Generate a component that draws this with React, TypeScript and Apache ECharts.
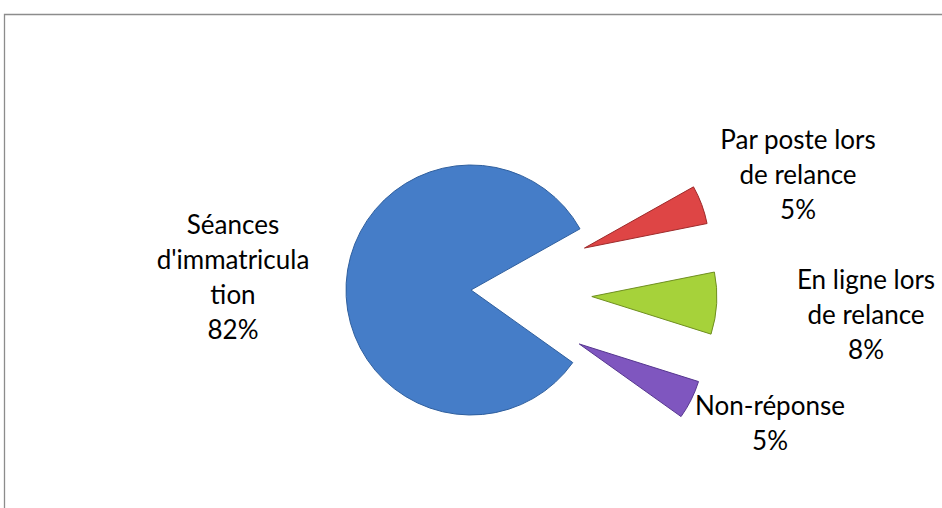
import React, { useEffect, useRef } from "react";
import * as echarts from "echarts";

const categories = [
  "Séances d'immatriculation",
  "Par poste lors de relance",
  "En ligne lors de relance",
  "Non-réponse",
];
const wrappedNames = [
  "Séances\nd'immatricula\ntion",
  "Par poste lors\nde relance",
  "En ligne lors\nde relance",
  "Non-réponse",
];
const values = [82, 5, 8, 5];
const colors = ["#457dc8", "#de4545", "#a6d23a", "#7f56bf"];
const borderColors = ["#2f5f9e", "#9e2a2a", "#6f8f20", "#56368f"];
const exploded = [false, true, true, true];
const labelCenters = [
  [233, 276],
  [798, 174],
  [866, 314],
  [770, 422],
];

export default function App() {
  const ref = useRef<HTMLDivElement>(null);
  useEffect(() => {
    if (!ref.current) return;
    const chart = echarts.init(ref.current, undefined, { renderer: "svg" });
    const total = values.reduce((a, b) => a + b, 0);
    const labelTexts = values.map((v, i) => ({
      type: "text",
      x: labelCenters[i][0],
      y: labelCenters[i][1],
      silent: true,
      style: {
        text: wrappedNames[i] + "\n" + Math.round((v / total) * 100) + "%",
        fontFamily: "Lato",
        fontSize: 26,
        lineHeight: 35,
        fill: "#000",
        textAlign: "center",
        textVerticalAlign: "middle",
      },
    }));
    chart.setOption({
      animation: false,
      graphic: [
        {
          type: "rect",
          shape: { x: 4.5, y: 14.5, width: 1200, height: 1200 },
          style: { fill: "none", stroke: "#8c8c8c", lineWidth: 1.3 },
          silent: true,
        },
        ...labelTexts,
      ],
      series: [
        {
          type: "pie",
          center: [471, 290],
          radius: 125,
          startAngle: 324.5,
          clockwise: true,
          selectedMode: "multiple",
          selectedOffset: 121,
          silent: true,
          emphasis: { disabled: true },
          labelLine: { show: false },
          label: { show: false },
          data: categories.map((name, i) => ({
            name,
            value: values[i],
            selected: exploded[i],
            itemStyle: {
              color: colors[i],
              borderColor: borderColors[i],
              borderWidth: 1,
            },
          })),
        },
      ],
    });
    return () => chart.dispose();
  }, []);
  return (
    <div
      ref={ref}
      style={{ position: "fixed", left: 0, top: 0, width: 942, height: 508, background: "#fff" }}
    />
  );
}
